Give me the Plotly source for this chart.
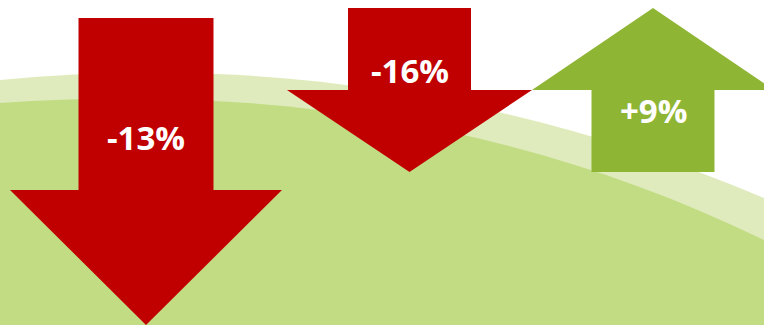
import plotly.graph_objects as go

# ---- data ----
values = [-13, -16, 9]
labels = [f"{v:+d}%" for v in values]

# ---- layout geometry (pixels, y downward) ----
W, H = 764, 325
centers = [146, 409.5, 653]
shaft_half = [67.5, 61.5, 61.5]
head_half = [136, 122.5, 121]
# for down arrows: (shaft top, head base, tip); for up arrow: (shaft bottom, head base, tip)
ends = [(18, 190, 325), (8, 90, 172), (172, 90, 8)]
label_y = [137, 70, 110]

RED = "#C00000"
GREEN_ARROW = "#8FB535"
LIGHT = "#DFEBBC"
DARK = "#C2DC84"

fig = go.Figure()

# background hills
light_path = f"M 0,80 C 250,55 514,92 {W},198 L {W},{H} L 0,{H} Z"
dark_path = f"M 0,103 C 250,85 514,118 {W},240 L {W},{H} L 0,{H} Z"
fig.add_shape(type="path", path=light_path, fillcolor=LIGHT, line_width=0, layer="below",
              xref="x", yref="y")
fig.add_shape(type="path", path=dark_path, fillcolor=DARK, line_width=0, layer="below",
              xref="x", yref="y")

for i, v in enumerate(values):
    cx, sh, hh = centers[i], shaft_half[i], head_half[i]
    a, b, tip = ends[i]
    xs = [cx - sh, cx + sh, cx + sh, cx + hh, cx, cx - hh, cx - sh, cx - sh]
    ys = [a, a, b, b, tip, b, b, a]
    color = RED if v < 0 else GREEN_ARROW
    fig.add_trace(go.Scatter(x=xs, y=ys, mode="lines", fill="toself", fillcolor=color,
                             line=dict(width=0, color=color), hoverinfo="skip",
                             showlegend=False))
    fig.add_annotation(x=cx, y=label_y[i], text=labels[i], showarrow=False,
                       font=dict(family="Open Sans", size=33, color="white", weight="bold"),
                       xanchor="center", yanchor="middle")

fig.update_xaxes(range=[0, W], visible=False, fixedrange=True)
fig.update_yaxes(range=[H, 0], visible=False, fixedrange=True)
fig.update_layout(width=W, height=H, autosize=False, margin=dict(l=0, r=0, t=0, b=0),
                  plot_bgcolor="white", paper_bgcolor="white", hovermode=False)

fig.write_html("out.html")
